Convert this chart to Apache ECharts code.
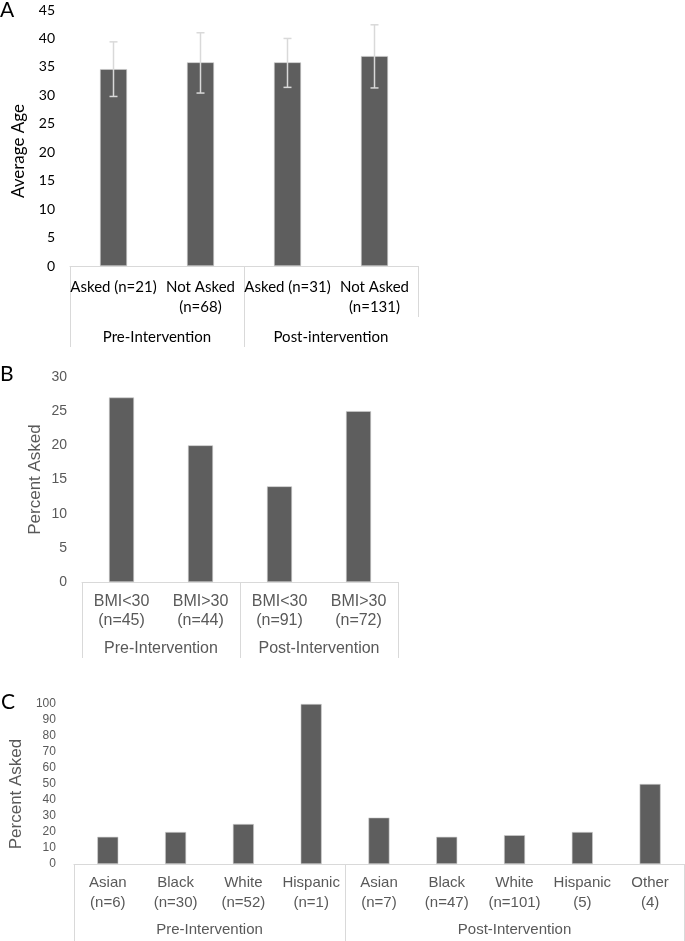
<!DOCTYPE html>
<html><head><meta charset="utf-8">
<script src="https://cdn.jsdelivr.net/npm/echarts@6/dist/echarts.min.js"></script>
<style>html,body{margin:0;padding:0;background:#fff}#main{width:685px;height:941px}</style>
</head><body><div id="main"></div>
<script>
// ---- Panel A data ----
const ageCategories = ['Asked (n=21)', 'Not Asked\n(n=68)', 'Asked (n=31)', 'Not Asked\n(n=131)'];
const ageGroups = ['Pre-Intervention', 'Post-intervention'];
const ageGroupSizes = [2, 2];
const ageMeans = [34.6, 35.8, 35.8, 36.9];
const ageLow = [29.8, 30.4, 31.4, 31.3];
const ageHigh = [39.4, 41.0, 40.0, 42.4];
const ageTicks = [0, 45, 5];

// ---- Panel B data ----
const bmiCategories = ['BMI<30\n(n=45)', 'BMI>30\n(n=44)', 'BMI<30\n(n=91)', 'BMI>30\n(n=72)'];
const bmiGroups = ['Pre-Intervention', 'Post-Intervention'];
const bmiGroupSizes = [2, 2];
const bmiPercent = [27, 20, 14, 25];
const bmiTicks = [0, 30, 5];

// ---- Panel C data ----
const raceCategories = ['Asian\n(n=6)', 'Black\n(n=30)', 'White\n(n=52)', 'Hispanic\n(n=1)',
  'Asian\n(n=7)', 'Black\n(n=47)', 'White\n(n=101)', 'Hispanic\n(5)', 'Other\n(4)'];
const raceGroups = ['Pre-Intervention', 'Post-Intervention'];
const raceGroupSizes = [4, 5];
const racePercent = [17, 20, 25, 100, 29, 17, 18, 20, 50];
const raceTicks = [0, 100, 10];

const BAR = '#5e5e5e';
const LINE = '#d9d9d9';
const GRAY = '#595959';
const CAL = 'Lato, "Open Sans", sans-serif';
const ARI = '"Liberation Sans", Arial, sans-serif';

function groupInfo(sizes, names) {
  let acc = 0; const bounds = [0]; const centers = [];
  sizes.forEach(s => { centers.push(acc + s / 2); acc += s; bounds.push(acc); });
  const fmt = v => { const i = centers.findIndex(c => Math.abs(c - v) < 1e-6); return i >= 0 ? names[i] : ''; };
  return { bounds, centers, total: acc, fmt };
}
const gA = groupInfo(ageGroupSizes, ageGroups);
const gB = groupInfo(bmiGroupSizes, bmiGroups);
const gC = groupInfo(raceGroupSizes, raceGroups);

function innerAxis(grid, cats, font, size, color, margin, lh) {
  return {
    type: 'category', gridIndex: grid, position: 'bottom', data: cats,
    axisLine: { show: true, lineStyle: { color: LINE, width: 1 } },
    axisTick: { show: false },
    axisLabel: { interval: 0, margin: margin, fontFamily: font, fontSize: size, color: color, lineHeight: lh }
  };
}
function groupAxis(grid, g, tickVals, tickLen, font, size, color, margin, lh) {
  return {
    type: 'value', gridIndex: grid, position: 'bottom', min: 0, max: g.total,
    axisLine: { show: false }, splitLine: { show: false },
    axisTick: { show: true, customValues: tickVals, length: tickLen, lineStyle: { color: LINE, width: 1 } },
    axisLabel: { show: true, customValues: g.centers, formatter: g.fmt, margin: margin,
      fontFamily: font, fontSize: size, color: color, lineHeight: lh }
  };
}
function extraTickAxis(grid, total, tickVals, tickLen) {
  return {
    type: 'value', gridIndex: grid, position: 'bottom', min: 0, max: total,
    axisLine: { show: false }, splitLine: { show: false }, axisLabel: { show: false },
    axisTick: { show: true, customValues: tickVals, length: tickLen, lineStyle: { color: LINE, width: 1 } }
  };
}
function yAxis(grid, ticks, name, font, size, color, nameSize, nameColor, gap, pad, margin) {
  return {
    type: 'value', gridIndex: grid, min: ticks[0], max: ticks[1], interval: ticks[2],
    axisLine: { show: false }, axisTick: { show: false }, splitLine: { show: false },
    axisLabel: { fontFamily: font, fontSize: size, color: color, margin: margin },
    name: name, nameLocation: 'middle', nameRotate: 90, nameGap: gap,
    nameTextStyle: { fontFamily: font, fontSize: nameSize, color: nameColor, padding: pad }
  };
}

const errorData = ageCategories.map((c, i) => [i, ageLow[i], ageHigh[i]]);

const option = {
  backgroundColor: '#fff',
  animation: false,
  title: [
    { text: 'A', left: 0, top: 0, padding: 0, textStyle: { fontFamily: CAL, fontSize: 21, fontWeight: 'normal', color: '#000' } },
    { text: 'B', left: 0, top: 364, padding: 0, textStyle: { fontFamily: CAL, fontSize: 21, fontWeight: 'normal', color: '#000' } },
    { text: 'C', left: 1, top: 692, padding: 0, textStyle: { fontFamily: CAL, fontSize: 21, fontWeight: 'normal', color: '#000' } }
  ],
  grid: [
    { left: 70, top: 10, width: 348, height: 256 },
    { left: 82, top: 377, width: 316, height: 205 },
    { left: 72, top: 704, width: 612, height: 160 }
  ],
  xAxis: [
    innerAxis(0, ageCategories, CAL, 15, '#000', 11, 20),
    groupAxis(0, gA, gA.bounds.slice(0, -1), 81, CAL, 15, '#000', 61, 20),
    extraTickAxis(0, gA.total, [gA.total], 51),
    innerAxis(1, bmiCategories, ARI, 16, GRAY, 10, 19),
    groupAxis(1, gB, gB.bounds, 76, ARI, 16, GRAY, 57, 19),
    innerAxis(2, raceCategories, ARI, 15, GRAY, 9, 20),
    groupAxis(2, gC, gC.bounds, 80, ARI, 15, GRAY, 56, 20)
  ],
  yAxis: [
    yAxis(0, ageTicks, 'Average Age', CAL, 14, '#000', 17, '#000', 43, [0, 26, 0, 0], 15),
    yAxis(1, bmiTicks, 'Percent Asked', ARI, 14, GRAY, 17, GRAY, 38, [0, 0, 0, 0], 15),
    yAxis(2, raceTicks, 'Percent Asked', ARI, 12, GRAY, 17, GRAY, 45, [0, 20, 0, 0], 18)
  ],
  series: [
    { type: 'bar', xAxisIndex: 0, yAxisIndex: 0, data: ageMeans, barWidth: 27,
      itemStyle: { color: BAR, borderColor: '#cfcfcf', borderWidth: 0.6 } },
    { type: 'custom', xAxisIndex: 0, yAxisIndex: 0, z: 5, data: errorData,
      encode: { x: 0, y: [1, 2] },
      renderItem: function (params, api) {
        const x = api.value(0);
        const lo = api.coord([x, api.value(1)]);
        const hi = api.coord([x, api.value(2)]);
        const hw = 4;
        const st = { stroke: LINE, lineWidth: 1.5 };
        return { type: 'group', children: [
          { type: 'line', shape: { x1: lo[0], y1: lo[1], x2: hi[0], y2: hi[1] }, style: st },
          { type: 'line', shape: { x1: lo[0] - hw, y1: lo[1], x2: lo[0] + hw, y2: lo[1] }, style: st },
          { type: 'line', shape: { x1: hi[0] - hw, y1: hi[1], x2: hi[0] + hw, y2: hi[1] }, style: st }
        ] };
      } },
    { type: 'bar', xAxisIndex: 3, yAxisIndex: 1, data: bmiPercent, barWidth: 25,
      itemStyle: { color: BAR, borderColor: '#cfcfcf', borderWidth: 0.6 } },
    { type: 'bar', xAxisIndex: 5, yAxisIndex: 2, data: racePercent, barWidth: 21,
      itemStyle: { color: BAR, borderColor: '#cfcfcf', borderWidth: 0.6 } }
  ]
};
const chart = echarts.init(document.getElementById('main'));
chart.setOption(option);
</script>
</body></html>
